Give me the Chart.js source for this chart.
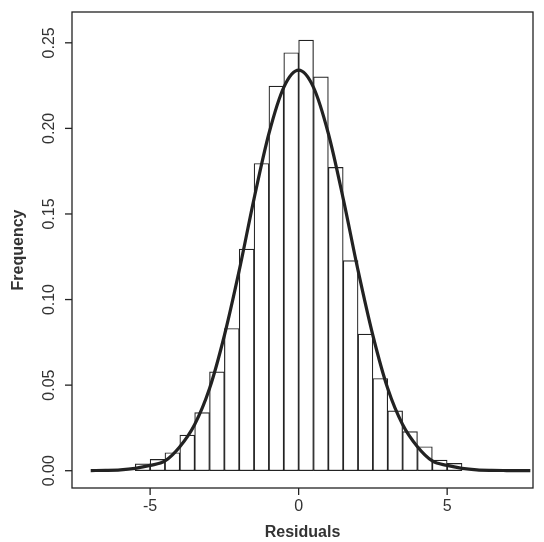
<!DOCTYPE html>
<html><head><meta charset="utf-8">
<script src="https://cdn.jsdelivr.net/npm/chart.js@4/dist/chart.umd.min.js"></script>
<style>html,body{margin:0;background:#fff}#c{display:block}</style>
</head><body>
<div style="width:544px;height:542px"><canvas id="c"></canvas></div>
<script>
// histogram bins (centres) and frequencies
const binCentres = [-5.25,-4.75,-4.25,-3.75,-3.25,-2.75,-2.25,-1.75,-1.25,-0.75,-0.25,0.25,0.75,1.25,1.75,2.25,2.75,3.25,3.75,4.25,4.75,5.25];
const binFreq = [0.004,0.0066,0.0105,0.0208,0.0339,0.0578,0.0831,0.1295,0.1795,0.2247,0.2442,0.2516,0.2301,0.1772,0.1227,0.0798,0.0539,0.0350,0.0228,0.0140,0.0062,0.0043];
// density curve
const curveX = [-7,-6.5,-6,-5.5,-5,-4.5,-4,-3.5,-3,-2.5,-2,-1.5,-1,-0.5,0,0.5,1,1.5,2,2.5,3,3.5,4,4.5,5,5.5,6,6.5,7,7.5,7.8];
const curveY = [0.0001,0.0002,0.0005,0.0014,0.0031,0.0057,0.014,0.027,0.048,0.079,0.117,0.159,0.197,0.224,0.234,0.224,0.197,0.159,0.117,0.079,0.048,0.027,0.014,0.0057,0.0031,0.0014,0.0005,0.0002,0.0001,0.00005,0];
const xTicks = [-5,0,5];
const yTicks = [0,0.05,0.10,0.15,0.20,0.25];

const F = 'Liberation Sans, Arial, sans-serif';
const frame = {
  id:'frame',
  afterDraw(ch){
    const {ctx, chartArea:a, scales:{x,y}} = ch;
    ctx.save();
    ctx.strokeStyle='#222'; ctx.lineWidth=1.3;
    ctx.strokeRect(a.left,a.top,a.right-a.left,a.bottom-a.top);
    ctx.fillStyle='#333'; ctx.font='16px '+F;
    ctx.textAlign='center'; ctx.textBaseline='top';
    xTicks.forEach(v=>{ const p=x.getPixelForValue(v);
      ctx.beginPath(); ctx.moveTo(p,a.bottom); ctx.lineTo(p,a.bottom+7); ctx.stroke();
      ctx.fillText(v<0?'-'+Math.abs(v):String(v),p,a.bottom+11); });
    yTicks.forEach(v=>{ const p=y.getPixelForValue(v);
      ctx.beginPath(); ctx.moveTo(a.left,p); ctx.lineTo(a.left-7,p); ctx.stroke();
      ctx.save(); ctx.translate(a.left-14,p); ctx.rotate(-Math.PI/2);
      ctx.textBaseline='bottom'; ctx.fillText(v.toFixed(2),0,0); ctx.restore(); });
    ctx.font='bold 16px '+F;
    ctx.textBaseline='alphabetic';
    ctx.fillText('Residuals',(a.left+a.right)/2,a.bottom+49);
    ctx.save(); ctx.translate(23,(a.top+a.bottom)/2); ctx.rotate(-Math.PI/2);
    ctx.fillText('Frequency',0,0); ctx.restore();
    ctx.restore();
  }
};

new Chart(document.getElementById('c'), {
  type:'bar',
  data:{ datasets:[
    { type:'line', order:0, data:curveX.map((v,i)=>({x:v,y:curveY[i]})), borderColor:'#222', borderWidth:3.2,
      pointRadius:0, cubicInterpolationMode:'monotone', fill:false },
    { type:'bar', order:1, data:binCentres.map((v,i)=>({x:v,y:binFreq[i]})), backgroundColor:'#fff',
      borderColor:'#222', borderWidth:1.2, borderSkipped:false, barPercentage:1, categoryPercentage:1, grouped:false }
  ]},
  options:{ responsive:true, maintainAspectRatio:false, animation:false,
    layout:{ padding:{left:72,right:11,top:12,bottom:54} },
    plugins:{ legend:{display:false}, tooltip:{enabled:false} },
    scales:{
      x:{ type:'linear', min:-7.63, max:7.89, display:false, offset:false },
      y:{ min:-0.0101, max:0.268, display:false }
    } },
  plugins:[frame]
});
</script>
</body></html>
